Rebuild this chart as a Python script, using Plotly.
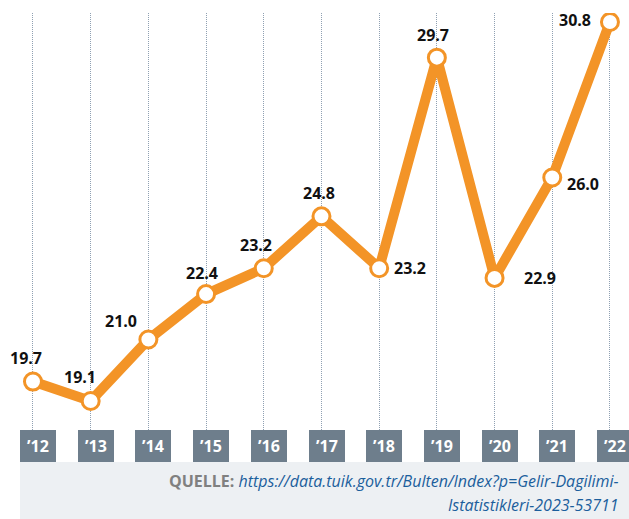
import plotly.graph_objects as go

years = ["’12", "’13", "’14", "’15", "’16", "’17", "’18", "’19", "’20", "’21", "’22"]
values = [19.7, 19.1, 21.0, 22.4, 23.2, 24.8, 23.2, 29.7, 22.9, 26.0, 30.8]
value_labels = ["19.7", "19.1", "21.0", "22.4", "23.2", "24.8", "23.2", "29.7", "22.9", "26.0", "30.8"]
# label offsets (px) relative to each point
label_offsets = [(-7, 24), (-11, 24), (-27, 18), (-4, 21), (-8, 23), (-2, 23), (31, 0), (-4, 23), (45, 0), (31, -7), (-35, 2)]

ORANGE = "#F39427"
BOX = "#6E7E8C"
FOOT = "#EDF0F3"

xs = list(range(len(years)))

fig = go.Figure()
fig.add_trace(go.Scatter(
    x=xs, y=values, mode="lines+markers",
    line=dict(color=ORANGE, width=10),
    marker=dict(size=17, color="white", line=dict(color=ORANGE, width=3)),
    hoverinfo="skip", showlegend=False,
))

ann = []
for i, (v, t, (dx, dy)) in enumerate(zip(values, value_labels, label_offsets)):
    ann.append(dict(x=i, y=v, text=t, showarrow=False, xshift=dx, yshift=dy,
                    font=dict(family="Open Sans", size=16, color="#111111", weight="bold")))

shapes = []
plot_h = 417.0
box_top = 0.0
box_bot = -(462 - 430) / plot_h
foot_bot = -(519 - 430) / plot_h
shapes.append(dict(type="rect", xref="paper", yref="paper", x0=0, x1=1, y0=foot_bot, y1=box_bot,
                   fillcolor=FOOT, line=dict(width=0), layer="above"))
for i, lab in enumerate(years):
    ann.append(dict(x=i + 0.0875, y=(box_bot + box_top) / 2, xref="x", yref="paper", text=lab,
                    xanchor="center", yanchor="middle", width=36, height=32, bgcolor=BOX,
                    borderpad=0, borderwidth=0,
                    showarrow=False, font=dict(family="Open Sans", size=16, color="white", weight="bold")))

ann.append(dict(xref="paper", yref="paper", x=1, xshift=-8, y=-(481 - 430) / plot_h, xanchor="right",
                yanchor="middle", showarrow=False,
                text="<b><span style='color:#808080;font-style:normal'>QUELLE:</span></b> "
                     "<i>https://data.tuik.gov.tr/Bulten/Index?p=Gelir-Dagilimi-</i>",
                font=dict(family="Open Sans", size=16, color="#1B5E9C")))
ann.append(dict(xref="paper", yref="paper", x=1, xshift=-8, y=-(505 - 430) / plot_h, xanchor="right",
                yanchor="middle", showarrow=False,
                text="<i>Istatistikleri-2023-53711</i>",
                font=dict(family="Open Sans", size=16, color="#1B5E9C")))

fig.update_layout(
    width=629, height=519,
    margin=dict(l=20, r=0, t=13, b=89),
    paper_bgcolor="white", plot_bgcolor="white",
    xaxis=dict(range=[-0.225, 10.33], tickvals=xs, showticklabels=False, showgrid=True,
               gridcolor="#8FA0B2", gridwidth=1, griddash="1px,1px", zeroline=False, showline=False,
               fixedrange=True),
    yaxis=dict(range=[18.205, 31.078], showgrid=False, showticklabels=False, zeroline=False,
               showline=False, fixedrange=True),
    annotations=ann, shapes=shapes,
)

fig.write_html("out.html")
